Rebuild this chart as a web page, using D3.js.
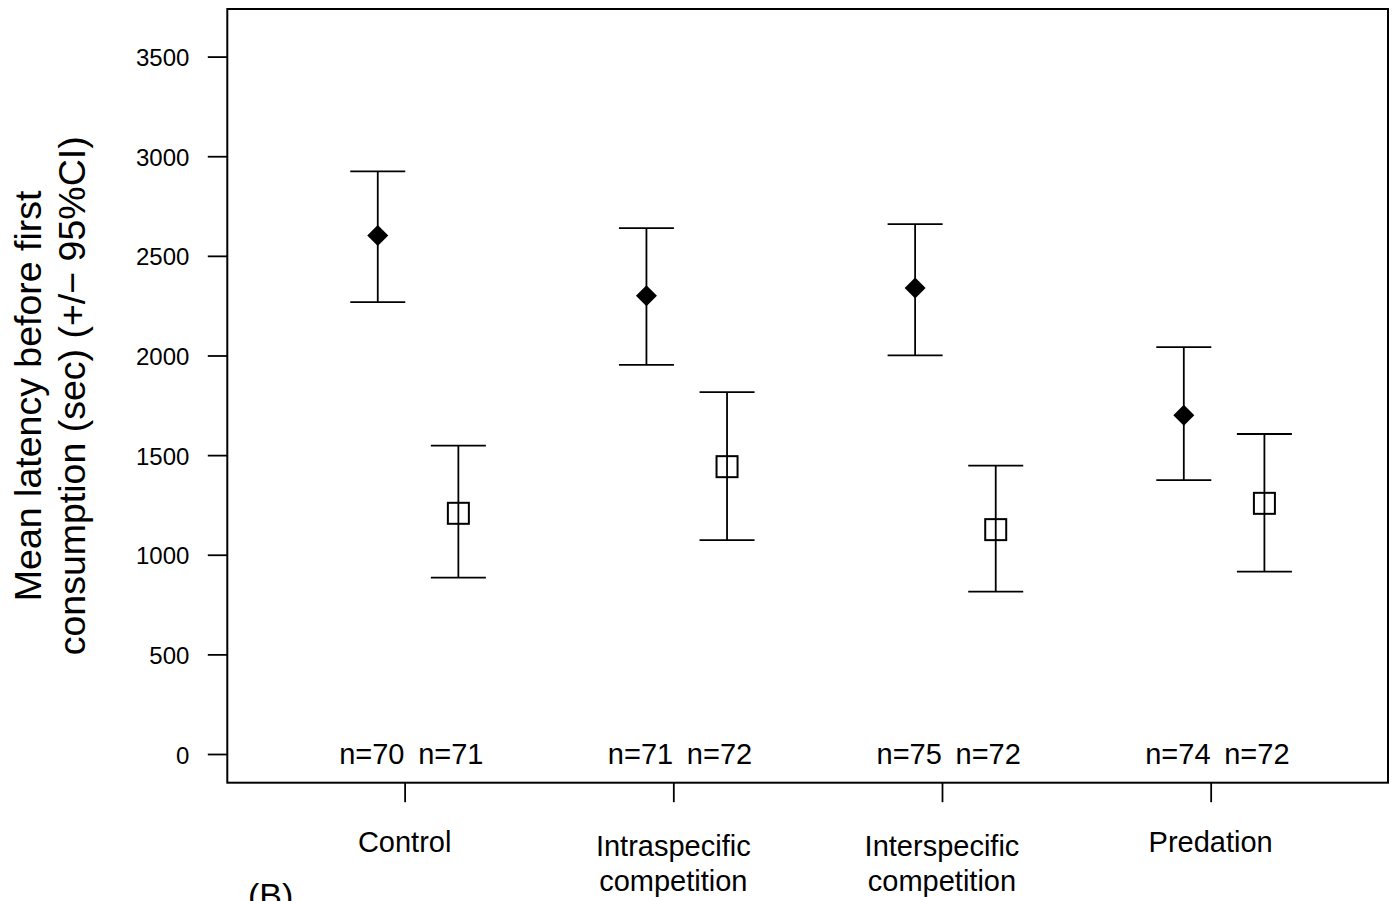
<!DOCTYPE html>
<html>
<head>
<meta charset="utf-8">
<script src="https://cdn.jsdelivr.net/npm/d3@7/dist/d3.min.js"></script>
<style>
  html, body { margin: 0; padding: 0; background: #fff; }
  svg { display: block; }
  text { font-family: "Liberation Sans", Arial, Helvetica, sans-serif; fill: #000; }
</style>
</head>
<body>
<svg id="chart" width="1398" height="901"></svg>
<script>
// ---- data ----
const categories = [["Control"], ["Intraspecific", "competition"], ["Interspecific", "competition"], ["Predation"]];
const filledMean  = [2602, 2300, 2339, 1700];
const filledUpper = [2924, 2639, 2659, 2042];
const filledLower = [2268, 1953, 2001, 1374];
const openMean    = [1208, 1442, 1126, 1258];
const openUpper   = [1548, 1816, 1447, 1606];
const openLower   = [885, 1073, 815, 915];
const filledN     = [70, 71, 75, 74];
const openN       = [71, 72, 72, 72];
const yTicks      = [0, 500, 1000, 1500, 2000, 2500, 3000, 3500];
const yTitle      = ["Mean latency before first", "consumption (sec) (+/\u2212 95%CI)"];
const panelLabel  = "(B)";

// ---- layout ----
const box = { left: 227.3, right: 1388, top: 9, bottom: 782.7 };
const svg = d3.select("#chart");

const x = d3.scaleLinear().domain([0.34, 4.66]).range([box.left, box.right]);
const y = d3.scaleLinear().domain([0, 3500]).range([754, 56.6]);

const filledOffset = -0.1, openOffset = 0.2;
const nOffsets = [-0.122, 0.172];
const capHalf = 27.5;

// plot box
svg.append("rect")
  .attr("x", box.left).attr("y", box.top)
  .attr("width", box.right - box.left).attr("height", box.bottom - box.top)
  .attr("fill", "none").attr("stroke", "#000").attr("stroke-width", 2);

// y axis
const yAxis = d3.axisLeft(y).tickValues(yTicks).tickSize(19.5).tickPadding(18.4).tickFormat(d3.format("d"));
const gy = svg.append("g").attr("transform", `translate(${box.left},0)`).call(yAxis);
gy.select(".domain").remove();
gy.selectAll(".tick line").attr("stroke", "#000").attr("stroke-width", 1.8);
gy.selectAll(".tick text").attr("font-size", 24).attr("dy", "0.38em")
  .style("font-family", "'Liberation Sans', Arial, sans-serif").attr("fill", "#000");

// x axis ticks
const idx = categories.map((c, i) => i + 1);
const xAxis = d3.axisBottom(x).tickValues(idx).tickSize(19.5).tickFormat("");
const gx = svg.append("g").attr("transform", `translate(0,${box.bottom})`).call(xAxis);
gx.select(".domain").remove();
gx.selectAll(".tick line").attr("stroke", "#000").attr("stroke-width", 1.8);

// category labels
categories.forEach((lines, i) => {
  const t = svg.append("text")
    .attr("x", x(i + 1)).attr("text-anchor", "middle").attr("font-size", 29);
  if (lines.length === 1) {
    t.attr("y", 851.7).text(lines[0]);
  } else {
    lines.forEach((ln, j) => {
      svg.append("text").attr("x", x(i + 1)).attr("y", 855.7 + j * 35)
        .attr("text-anchor", "middle").attr("font-size", 29).text(ln);
    });
    t.remove();
  }
});

// error bars
function drawSeries(mean, upper, lower, offset, cls) {
  const g = svg.append("g").attr("class", cls);
  mean.forEach((m, i) => {
    const cx = x(i + 1 + offset);
    g.append("line").attr("x1", cx).attr("x2", cx).attr("y1", y(upper[i])).attr("y2", y(lower[i]))
      .attr("stroke", "#000").attr("stroke-width", 1.8);
    [upper[i], lower[i]].forEach(v => {
      g.append("line").attr("x1", cx - capHalf).attr("x2", cx + capHalf)
        .attr("y1", y(v)).attr("y2", y(v)).attr("stroke", "#000").attr("stroke-width", 1.8);
    });
  });
  return g;
}
const gF = drawSeries(filledMean, filledUpper, filledLower, filledOffset, "filled");
const gO = drawSeries(openMean, openUpper, openLower, openOffset, "open");

// filled diamonds
filledMean.forEach((m, i) => {
  const cx = x(i + 1 + filledOffset), cy = y(m), r = 10.5;
  gF.append("path")
    .attr("d", `M${cx},${cy - r}L${cx + r},${cy}L${cx},${cy + r}L${cx - r},${cy}Z`)
    .attr("fill", "#000");
});
// open squares
openMean.forEach((m, i) => {
  const cx = x(i + 1 + openOffset), cy = y(m), h = 10.5;
  gO.append("rect").attr("x", cx - h).attr("y", cy - h).attr("width", 2 * h).attr("height", 2 * h)
    .attr("fill", "none").attr("stroke", "#000").attr("stroke-width", 2);
});

// n labels
[filledN, openN].forEach((arr, s) => {
  arr.forEach((n, i) => {
    svg.append("text").attr("x", x(i + 1 + nOffsets[s])).attr("y", 764.3)
      .attr("text-anchor", "middle").attr("font-size", 29).text("n=" + n);
  });
});

// y title
const cyT = (box.top + box.bottom) / 2;
[[41, yTitle[0]], [85, yTitle[1]]].forEach(([bx, s]) => {
  svg.append("text")
    .attr("transform", `translate(${bx},${cyT}) rotate(-90)`)
    .attr("text-anchor", "middle").attr("font-size", 37.5).text(s);
});

// panel label
svg.append("text").attr("x", 248).attr("y", 907).attr("font-size", 34).text(panelLabel);
</script>
</body>
</html>
